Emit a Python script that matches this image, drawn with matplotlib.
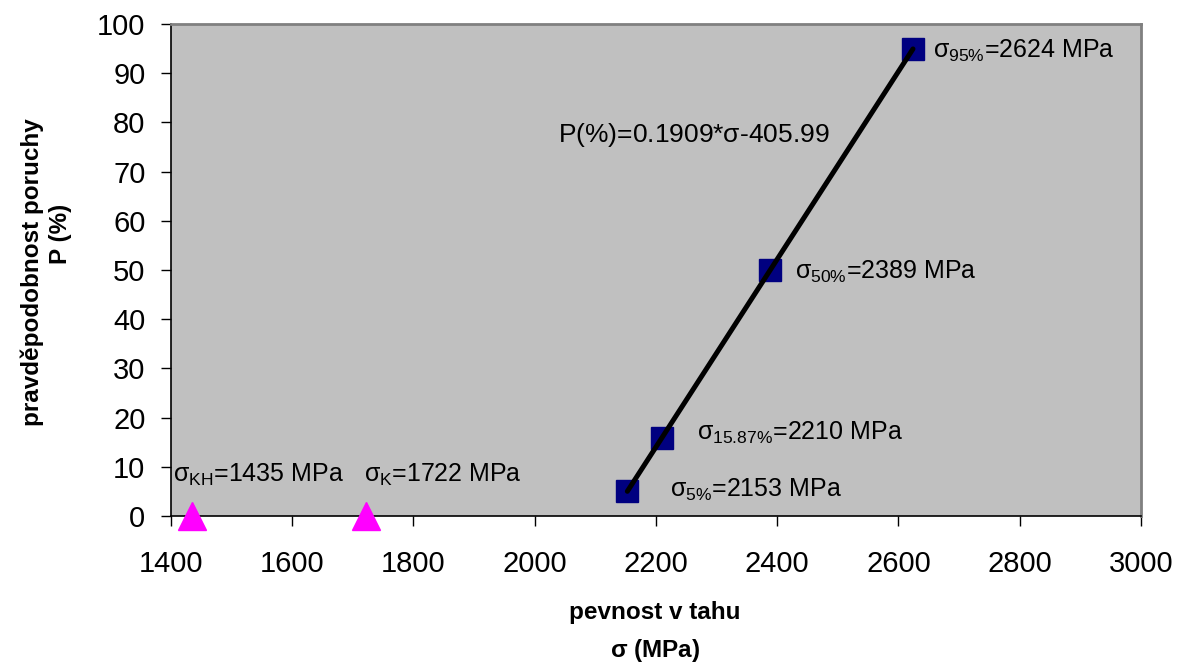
import matplotlib
matplotlib.use("Agg")
import matplotlib.pyplot as plt
import numpy as np

plt.rcParams['font.family'] = ['Liberation Sans', 'DejaVu Sans']
plt.rcParams['mathtext.fontset'] = 'custom'
plt.rcParams['mathtext.rm'] = 'Liberation Sans'
plt.rcParams['mathtext.it'] = 'Liberation Sans'
plt.rcParams['mathtext.bf'] = 'Liberation Sans:bold'

# Data
sigma_pts = [2153, 2210, 2389, 2624]
prob_pts = [5, 15.87, 50, 95]
sigma_tri = [1435, 1722]
prob_tri = [0, 0]
slope, intercept = 0.1909, -405.99
point_labels = [r'$\sigma_{5\%}$=2153 MPa', r'$\sigma_{15.87\%}$=2210 MPa',
                r'$\sigma_{50\%}$=2389 MPa', r'$\sigma_{95\%}$=2624 MPa']
label_pos = [(2224, 5.3), (2268, 16.9), (2429, 49.6), (2657, 94.5)]
tri_labels = [r'$\sigma_{KH}$=1435 MPa', r'$\sigma_{K}$=1722 MPa']
tri_label_pos = [(1404, 8.3), (1719, 8.3)]
eq_label = r'P(%)=0.1909*$\sigma$-405.99'
eq_pos = (2039, 77.4)
xticks = list(range(1400, 3001, 200))
yticks = list(range(0, 101, 10))

W, H = 1184, 665
fig = plt.figure(figsize=(W/100, H/100), dpi=100)
L, R, T, B = 170.7, 1141, 24, 516
ax = fig.add_axes([L/W, 1-B/H, (R-L)/W, (B-T)/H])
ax.set_facecolor('#C0C0C0')

xl = np.array([sigma_pts[0], sigma_pts[-1]])
ax.plot(xl, slope*xl + intercept, color='black', lw=3.6, zorder=3, solid_capstyle='round')
ax.plot(sigma_pts, prob_pts, linestyle='none', marker='s', markersize=16.5,
        color='#000080', zorder=2)
ax.plot(sigma_tri, prob_tri, linestyle='none', marker='^', markersize=19.5,
        color='#FF00FF', zorder=4, clip_on=False)

for t, (x, y) in zip(point_labels, label_pos):
    ax.text(x, y, t, fontsize=18, va='center', ha='left')
for t, (x, y) in zip(tri_labels, tri_label_pos):
    ax.text(x, y, t, fontsize=18, va='center', ha='left')
ax.text(eq_pos[0], eq_pos[1], eq_label, fontsize=19, va='center', ha='left')

ax.set_xlim(1400, 3000)
ax.set_ylim(0, 100)
ax.set_xticks(xticks)
ax.set_yticks(yticks)
ax.tick_params(axis='both', direction='out', length=7.2, width=1, labelsize=21, colors='black')
ax.tick_params(axis='x', pad=17)
ax.tick_params(axis='y', pad=11)
for s in ['top', 'right']:
    ax.spines[s].set_color('#808080')
    ax.spines[s].set_linewidth(2)
for s in ['left', 'bottom']:
    ax.spines[s].set_color('black')
    ax.spines[s].set_linewidth(1.2)

fig.text(655/W, 1-613/H, 'pevnost v tahu', fontsize=17.5, fontweight='bold', ha='center', va='center')
fig.text(655/W, 1-650/H, r'$\mathbf{\sigma}$ (MPa)', fontsize=17.5, fontweight='bold', ha='center', va='center')
fig.text(32/W, 1-272/H, 'pravděpodobnost poruchy', fontsize=17.5, fontweight='bold',
         ha='center', va='center', rotation=90)
fig.text(60/W, 1-234/H, 'P (%)', fontsize=17.5, fontweight='bold',
         ha='center', va='center', rotation=90)

fig.savefig('out.png', dpi=100)
